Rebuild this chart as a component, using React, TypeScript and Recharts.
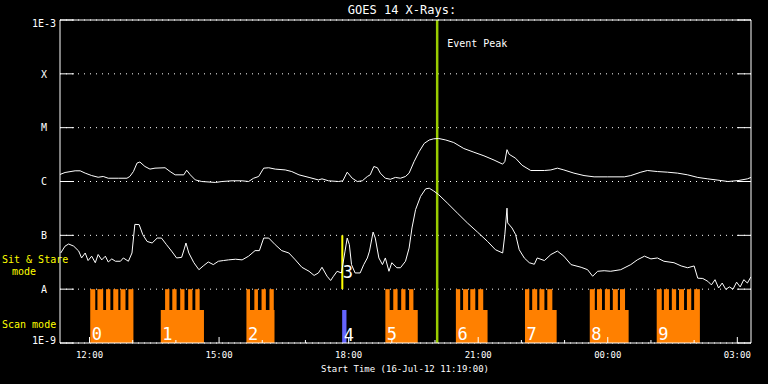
import React from "react";
import {
  CartesianGrid,
  ComposedChart,
  Line,
  ReferenceArea,
  ReferenceLine,
  XAxis,
  YAxis,
} from "recharts";

// time axis: minutes after the start time 16-Jul-12 11:19:00
const LONG_T = [0, 7, 21, 28, 35, 44, 53, 60, 67, 81, 93, 97, 102, 107, 111, 118, 125, 132, 146, 153, 160, 172, 176, 181, 188, 197, 216, 225, 239, 253, 262, 269, 276, 283, 290, 299, 313, 322, 332, 346, 359, 364, 373, 387, 393, 399, 406, 413, 420, 427, 431, 436, 441, 445, 452, 459, 466, 473, 480, 485, 492, 499, 506, 513, 519, 526, 536, 547, 561, 575, 589, 603, 615, 618, 621, 624, 633, 642, 654, 673, 682, 691, 700, 714, 728, 742, 761, 784, 793, 807, 816, 830, 844, 858, 872, 886, 900, 914, 928, 942, 955, 960];
const LONG_FLUX = [1.35e-6, 1.47e-6, 1.58e-6, 1.58e-6, 1.43e-6, 1.29e-6, 1.2e-6, 1.24e-6, 1.15e-6, 1.15e-6, 1.15e-6, 1.24e-6, 1.53e-6, 2.2e-6, 2.3e-6, 1.9e-6, 1.7e-6, 1.77e-6, 1.8e-6, 1.53e-6, 1.33e-6, 1.33e-6, 1.62e-6, 1.33e-6, 1.07e-6, 1.0e-6, 9.6e-7, 1.0e-6, 1.03e-6, 1.03e-6, 1.0e-6, 1.15e-6, 1.24e-6, 1.77e-6, 1.8e-6, 1.7e-6, 1.64e-6, 1.53e-6, 1.33e-6, 1.19e-6, 1.07e-6, 1.12e-6, 1.03e-6, 1.0e-6, 1.03e-6, 1.49e-6, 1.15e-6, 1.0e-6, 1.03e-6, 1.24e-6, 1.33e-6, 1.9e-6, 1.8e-6, 1.43e-6, 1.15e-6, 1.1e-6, 1.19e-6, 1.15e-6, 1.24e-6, 1.43e-6, 2.35e-6, 3.6e-6, 5.1e-6, 5.9e-6, 6.2e-6, 6.3e-6, 5.9e-6, 5.3e-6, 4.1e-6, 3.5e-6, 3.0e-6, 2.5e-6, 2.1e-6, 2.35e-6, 3.9e-6, 3.2e-6, 2.7e-6, 2.0e-6, 1.6e-6, 1.6e-6, 1.64e-6, 1.77e-6, 1.64e-6, 1.43e-6, 1.29e-6, 1.22e-6, 1.22e-6, 1.22e-6, 1.29e-6, 1.49e-6, 1.6e-6, 1.53e-6, 1.49e-6, 1.43e-6, 1.33e-6, 1.19e-6, 1.12e-6, 1.06e-6, 1.0e-6, 1.04e-6, 1.12e-6, 1.19e-6];

const SHORT_T = [1, 7, 12, 19, 26, 30, 35, 39, 44, 49, 53, 58, 63, 67, 72, 77, 84, 88, 95, 100, 104, 110, 115, 121, 128, 135, 141, 148, 155, 162, 169, 173, 175, 179, 186, 193, 199, 206, 213, 220, 227, 234, 244, 253, 262, 271, 277, 283, 290, 299, 308, 318, 327, 336, 346, 353, 359, 364, 371, 376, 380, 385, 391, 396, 399, 402, 405, 410, 417, 422, 427, 430, 435, 438, 443, 448, 452, 457, 461, 468, 473, 480, 485, 489, 494, 501, 508, 513, 519, 526, 538, 552, 566, 580, 594, 605, 615, 618, 621, 622, 628, 633, 638, 645, 652, 659, 663, 673, 682, 691, 700, 710, 724, 733, 740, 747, 756, 765, 779, 793, 802, 812, 821, 830, 839, 853, 863, 872, 881, 886, 893, 900, 905, 910, 915, 920, 925, 930, 935, 940, 945, 950, 955, 960];
const SHORT_FLUX = [4.7e-8, 6.3e-8, 6.9e-8, 6.3e-8, 5.1e-8, 3.8e-8, 4.7e-8, 3.4e-8, 4.1e-8, 3.1e-8, 4.4e-8, 3.5e-8, 4.1e-8, 3.2e-8, 3.65e-8, 3.3e-8, 3.3e-8, 3.8e-8, 3.3e-8, 4.7e-8, 1.6e-7, 1.58e-7, 1.03e-7, 7.7e-8, 7.2e-8, 8.9e-8, 8.9e-8, 6.7e-8, 5.1e-8, 3.8e-8, 3.9e-8, 5.8e-8, 7.2e-8, 4.7e-8, 3.1e-8, 2.3e-8, 2.7e-8, 3.2e-8, 2.86e-8, 3.3e-8, 3.4e-8, 3.5e-8, 3.6e-8, 3.5e-8, 4.1e-8, 5.2e-8, 5.2e-8, 8.9e-8, 8.9e-8, 6.7e-8, 5.2e-8, 4.7e-8, 3.5e-8, 2.55e-8, 2.15e-8, 1.8e-8, 2.0e-8, 2.55e-8, 1.74e-8, 1.45e-8, 1.74e-8, 2.15e-8, 2.0e-8, 5.1e-8, 8.9e-8, 6.7e-8, 2.86e-8, 2.0e-8, 2.0e-8, 2.86e-8, 3.8e-8, 5.1e-8, 1.15e-7, 8.9e-8, 3.8e-8, 2.86e-8, 3.8e-8, 2.15e-8, 3.1e-8, 2.5e-8, 2.5e-8, 3.3e-8, 5.8e-8, 1.37e-7, 3.0e-7, 5.3e-7, 7.3e-7, 7.5e-7, 6.7e-7, 5.7e-7, 4.0e-7, 2.6e-7, 1.7e-7, 1.15e-7, 7.7e-8, 5.4e-8, 4.7e-8, 1.03e-7, 3.2e-7, 1.7e-7, 1.37e-7, 1.03e-7, 5.4e-8, 3.8e-8, 3.1e-8, 2.9e-8, 3.8e-8, 3.4e-8, 4.4e-8, 5.1e-8, 4.1e-8, 2.86e-8, 2.55e-8, 2.3e-8, 1.74e-8, 2.15e-8, 2.2e-8, 2.15e-8, 2.3e-8, 2.86e-8, 3.5e-8, 4.1e-8, 3.65e-8, 3.8e-8, 3.3e-8, 3.1e-8, 2.7e-8, 2.5e-8, 2.7e-8, 1.6e-8, 1.58e-8, 1.4e-8, 1.2e-8, 1.5e-8, 1.05e-8, 1.3e-8, 9.9e-9, 1.1e-8, 1.0e-8, 1.35e-8, 1.1e-8, 1.5e-8, 1.3e-8, 1.7e-8, 1.5e-8, 2.1e-8];

// scan mode observations
const SCAN_IDS = ["0", "1", "2", "5", "6", "7", "8", "9"];
const SCAN_START = [42, 140, 259, 452, 550, 646, 736, 829];
const SCAN_END = [102, 200, 298, 497, 594, 690, 790, 889];
const RASTER_START = [
  [42, 52, 64, 74, 84, 95],
  [146, 156, 167, 178, 188],
  [259, 270, 280, 291],
  [452, 463, 474, 485],
  [550, 560, 570, 581],
  [646, 656, 666, 677],
  [736, 746, 757, 768, 778],
  [829, 839, 850, 860, 871, 881],
];
const RASTER_END = [
  [49, 60, 70, 81, 91, 102],
  [152, 162, 173, 184, 194],
  [264, 275, 286, 297],
  [458, 469, 480, 491],
  [556, 567, 577, 588],
  [652, 663, 673, 684],
  [743, 753, 764, 775, 785],
  [836, 846, 856, 867, 877, 889],
];
const SCAN_LEVEL = 4.1e-9;
const RASTER_LEVEL = 1e-8;

// sit & stare observations
const SIT_ID = "3";
const SIT_START = 390.8;
const SIT_END = 393.6;
const SIT_LOW = 1e-8;
const SIT_HIGH = 1e-7;
const STARE_ID = "4";
const STARE_START = 392;
const STARE_END = 398;

const EVENT_PEAK = 524;

const Y_TICKS = [1e-9, 1e-8, 1e-7, 1e-6, 1e-5, 1e-4, 1e-3];
const Y_LABELS = ["1E-9", "A", "B", "C", "M", "X", "1E-3"];
const HOUR_TICKS = [41, 101, 161, 221, 281, 341, 401, 461, 521, 581, 641, 701, 761, 821, 881, 941];
const MAJOR_TICKS = [41, 221, 401, 581, 761, 941];
const MAJOR_LABELS = ["12:00", "15:00", "18:00", "21:00", "00:00", "03:00"];

const FONT = "'DejaVu Sans Mono', monospace";
const ORANGE = "#ff8000";
const YELLOW = "#ffff00";
const BLUE = "#6464ff";
const GREEN = "#99cc00";

const longData = LONG_T.map((t, i) => ({ t, flux: LONG_FLUX[i] }));
const shortData = SHORT_T.map((t, i) => ({ t, flux: SHORT_FLUX[i] }));

function BottomTick(props: any) {
  const { x, y, payload } = props;
  const idx = MAJOR_TICKS.indexOf(payload.value);
  return (
    <g>
      <line x1={x} x2={x} y1={y} y2={y - (idx >= 0 ? 6 : 3)} stroke="#fff" />
      {idx >= 0 && (
        <text x={x} y={y + 15} textAnchor="middle" fill="#fff" fontSize={9} fontFamily={FONT}>
          {MAJOR_LABELS[idx]}
        </text>
      )}
    </g>
  );
}

function TopTick(props: any) {
  const { x, y, payload } = props;
  const major = MAJOR_TICKS.includes(payload.value);
  return <line x1={x} x2={x} y1={y} y2={y + (major ? 7 : 3)} stroke="#fff" />;
}

function LeftTick(props: any) {
  const { x, y, payload } = props;
  const idx = Y_TICKS.indexOf(payload.value);
  const shift = idx === 0 ? -3 : idx === Y_TICKS.length - 1 ? 3 : 0;
  return (
    <g>
      <line x1={x} x2={x + 14} y1={y} y2={y} stroke="#fff" />
      <text x={44} y={y + shift + 3.7} textAnchor="middle" fill="#fff" fontSize={10} fontFamily={FONT}>
        {Y_LABELS[idx]}
      </text>
    </g>
  );
}

function RightTick(props: any) {
  const { x, y } = props;
  return <line x1={x - 14} x2={x} y1={y} y2={y} stroke="#fff" />;
}

const blockLabel = (text: string, lift: number) => (p: any) => {
  const vb = p.viewBox;
  return (
    <text
      x={vb.x + 1.5}
      y={vb.y + vb.height - lift}
      fill="#fff"
      fontSize={17}
      fontFamily={FONT}
    >
      {text}
    </text>
  );
};

export default function App() {
  return (
    <div style={{ position: "fixed", left: 0, top: 0, width: 768, height: 384, background: "#000" }}>
      <ComposedChart width={768} height={384} margin={{ top: 0, right: 0, bottom: 0, left: 0 }}>
        <CartesianGrid
          xAxisId="main"
          yAxisId="left"
          vertical={false}
          stroke="#fff"
          strokeDasharray="1 5"
        />
        <XAxis
          xAxisId="main"
          dataKey="t"
          type="number"
          domain={[0, 960]}
          allowDataOverflow
          ticks={HOUR_TICKS}
          interval={0}
          height={41}
          tickSize={0}
          tickMargin={0}
          tickLine={false}
          axisLine={{ stroke: "#fff" }}
          tick={<BottomTick />}
        />
        <XAxis
          xAxisId="top"
          orientation="top"
          type="number"
          domain={[0, 960]}
          allowDataOverflow
          ticks={HOUR_TICKS}
          interval={0}
          height={20}
          tickSize={0}
          tickMargin={0}
          tickLine={false}
          axisLine={{ stroke: "#fff" }}
          tick={<TopTick />}
        />
        <YAxis
          yAxisId="left"
          scale="log"
          type="number"
          domain={[1e-9, 1e-3]}
          allowDataOverflow
          ticks={Y_TICKS}
          interval={0}
          width={60}
          tickSize={0}
          tickMargin={0}
          tickLine={false}
          axisLine={{ stroke: "#fff" }}
          tick={<LeftTick />}
        />
        <YAxis
          yAxisId="right"
          orientation="right"
          scale="log"
          type="number"
          domain={[1e-9, 1e-3]}
          allowDataOverflow
          ticks={Y_TICKS}
          interval={0}
          width={17}
          tickSize={0}
          tickMargin={0}
          tickLine={false}
          axisLine={{ stroke: "#fff" }}
          tick={<RightTick />}
        />

        {SCAN_IDS.map((id, i) => (
          <ReferenceArea
            key={"scan" + id}
            xAxisId="main"
            yAxisId="left"
            x1={SCAN_START[i]}
            x2={SCAN_END[i]}
            y1={1e-9}
            y2={SCAN_LEVEL}
            fill={ORANGE}
            fillOpacity={1}
            stroke="none"
            label={blockLabel(id, 3)}
          />
        ))}
        {RASTER_START.map((starts, i) =>
          starts.map((s, j) => (
            <ReferenceArea
              key={"r" + i + "-" + j}
              xAxisId="main"
              yAxisId="left"
              x1={s}
              x2={RASTER_END[i][j]}
              y1={SCAN_LEVEL}
              y2={RASTER_LEVEL}
              fill={ORANGE}
              fillOpacity={1}
              stroke="none"
            />
          ))
        )}
        <ReferenceArea
          xAxisId="main"
          yAxisId="left"
          x1={SIT_START}
          x2={SIT_END}
          y1={SIT_LOW}
          y2={SIT_HIGH}
          fill={YELLOW}
          fillOpacity={1}
          stroke="none"
          label={blockLabel(SIT_ID, 11)}
        />
        <ReferenceArea
          xAxisId="main"
          yAxisId="left"
          x1={STARE_START}
          x2={STARE_END}
          y1={1e-9}
          y2={SCAN_LEVEL}
          fill={BLUE}
          fillOpacity={1}
          stroke="none"
          label={blockLabel(STARE_ID, 2)}
        />
        <ReferenceLine
          xAxisId="main"
          yAxisId="left"
          x={EVENT_PEAK}
          stroke={GREEN}
          strokeWidth={2.5}
          label={(p: any) => (
            <text x={p.viewBox.x + 10} y={47} fill="#fff" fontSize={10} fontFamily={FONT}>
              Event Peak
            </text>
          )}
        />

        <Line
          xAxisId="main"
          yAxisId="left"
          data={longData}
          dataKey="flux"
          type="linear"
          stroke="#fff"
          strokeWidth={1}
          dot={false}
          activeDot={false}
          isAnimationActive={false}
        />
        <Line
          xAxisId="main"
          yAxisId="left"
          data={shortData}
          dataKey="flux"
          type="linear"
          stroke="#fff"
          strokeWidth={1}
          dot={false}
          activeDot={false}
          isAnimationActive={false}
        />

        <text x={402} y={14} textAnchor="middle" fill="#fff" fontSize={12} fontFamily={FONT}>
          GOES 14 X-Rays:
        </text>
        <text x={405} y={372} textAnchor="middle" fill="#fff" fontSize={9} fontFamily={FONT}>
          Start Time (16-Jul-12 11:19:00)
        </text>
        <text x={2} y={263} fill={YELLOW} fontSize={10} fontFamily={FONT}>
          Sit &amp; Stare
        </text>
        <text x={24} y={275} textAnchor="middle" fill={YELLOW} fontSize={10} fontFamily={FONT}>
          mode
        </text>
        <text x={2} y={328} fill={YELLOW} fontSize={10} fontFamily={FONT}>
          Scan mode
        </text>
      </ComposedChart>
    </div>
  );
}
